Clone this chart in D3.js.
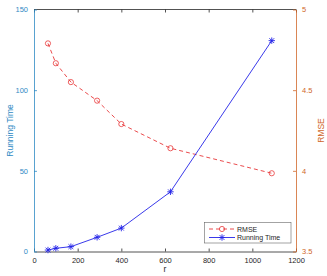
<!DOCTYPE html>
<html><head><meta charset="utf-8">
<script src="https://cdn.jsdelivr.net/npm/d3@7"></script>
<style>body{margin:0;background:#fff}svg{display:block}text{font-family:Helvetica,"Liberation Sans",Arial,sans-serif}</style>
</head><body>
<svg id="c" width="327" height="276"></svg>
<script>
const rValues = [64, 100, 169, 289, 400, 625, 1089];
const rmse = [4.79, 4.667, 4.55, 4.435, 4.29, 4.14, 3.985];
const runningTime = [0.9, 2.0, 3.0, 8.8, 14.5, 37, 130.7];
const xTicks = [0, 200, 400, 600, 800, 1000, 1200];
const leftTicks = [0, 50, 100, 150];
const rightTicks = [3.5, 4, 4.5, 5];

const svg = d3.select("#c");
const L = 34, R = 296, T = 9.5, B = 251.5;
const blueAx = "#2f8ac4", orangeAx = "#d0672a";
const x = d3.scaleLinear().domain([0, 1200]).range([L, R]);
const yL = d3.scaleLinear().domain([0, 150]).range([B, T]);
const yR = d3.scaleLinear().domain([3.5, 5]).range([B, T]);
const fs = "7.5px";

// top frame
svg.append("line").attr("x1", L).attr("x2", R).attr("y1", T).attr("y2", T).attr("stroke", "#262626").attr("stroke-width", 0.8);

const gx = svg.append("g").attr("transform", `translate(0,${B})`)
  .call(d3.axisBottom(x).tickValues(xTicks).tickSize(-3).tickPadding(6).tickSizeOuter(0).tickFormat(d3.format("d")));
gx.select(".domain").attr("stroke", "#262626").attr("stroke-width", 0.8);
gx.selectAll(".tick line").attr("stroke", "#262626").attr("stroke-width", 0.8);
gx.selectAll("text").attr("fill", "#262626").style("font-size", fs);
const gxt = svg.append("g").attr("transform", `translate(0,${T})`)
  .call(d3.axisTop(x).tickValues(xTicks).tickSize(-3).tickFormat("").tickSizeOuter(0));
gxt.select(".domain").remove();
gxt.selectAll(".tick line").attr("stroke", "#262626").attr("stroke-width", 0.8);

const gl = svg.append("g").attr("transform", `translate(${L},0)`)
  .call(d3.axisLeft(yL).tickValues(leftTicks).tickSize(-3).tickPadding(6).tickSizeOuter(0));
gl.select(".domain").attr("stroke", blueAx).attr("stroke-width", 0.8);
gl.selectAll(".tick line").attr("stroke", blueAx).attr("stroke-width", 0.8);
gl.selectAll("text").attr("fill", blueAx).style("font-size", fs);

const gr = svg.append("g").attr("transform", `translate(${R},0)`)
  .call(d3.axisRight(yR).tickValues(rightTicks).tickSize(-3).tickPadding(6).tickSizeOuter(0).tickFormat(d3.format("")));
gr.select(".domain").attr("stroke", orangeAx).attr("stroke-width", 0.8);
gr.selectAll(".tick line").attr("stroke", orangeAx).attr("stroke-width", 0.8);
gr.selectAll("text").attr("fill", orangeAx).style("font-size", fs);

svg.append("text").attr("x", (L + R) / 2).attr("y", 272).attr("text-anchor", "middle")
  .attr("fill", "#262626").style("font-size", "8.5px").text("r");
svg.append("text").attr("transform", `translate(12.5,${(T + B) / 2}) rotate(-90)`).attr("text-anchor", "middle")
  .attr("fill", blueAx).style("font-size", "8.5px").text("Running Time");
svg.append("text").attr("transform", `translate(324,${(T + B) / 2}) rotate(-90)`).attr("text-anchor", "middle")
  .attr("fill", orangeAx).style("font-size", "8.5px").text("RMSE");

const red = "#e8383a", blue = "#2424e8";
const dataR = rValues.map((r, i) => ({ r, v: rmse[i] }));
const dataT = rValues.map((r, i) => ({ r, v: runningTime[i] }));

svg.append("path").datum(dataR).attr("fill", "none").attr("stroke", red).attr("stroke-width", 0.9)
  .attr("stroke-dasharray", "4,3").attr("d", d3.line().x(d => x(d.r)).y(d => yR(d.v)));
svg.selectAll(".cr").data(dataR).join("circle").attr("cx", d => x(d.r)).attr("cy", d => yR(d.v))
  .attr("r", 2.6).attr("fill", "none").attr("stroke", red).attr("stroke-width", 0.8);

svg.append("path").datum(dataT).attr("fill", "none").attr("stroke", blue).attr("stroke-width", 0.9)
  .attr("d", d3.line().x(d => x(d.r)).y(d => yL(d.v)));
function star(g, cx, cy, s) {
  const p = [];
  p.push(`M${cx - s},${cy}L${cx + s},${cy}`);
  p.push(`M${cx},${cy - s}L${cx},${cy + s}`);
  const d = s * 0.75;
  p.push(`M${cx - d},${cy - d}L${cx + d},${cy + d}`);
  p.push(`M${cx - d},${cy + d}L${cx + d},${cy - d}`);
  g.append("path").attr("d", p.join("")).attr("stroke", blue).attr("stroke-width", 0.9).attr("fill", "none");
}
const gs = svg.append("g");
dataT.forEach(d => star(gs, x(d.r), yL(d.v), 3.2));

// legend
const lg = svg.append("g");
lg.append("rect").attr("x", 204.5).attr("y", 222.5).attr("width", 86.5).attr("height", 20.5)
  .attr("fill", "#fff").attr("stroke", "#666").attr("stroke-width", 0.6);
lg.append("line").attr("x1", 209).attr("x2", 235).attr("y1", 229).attr("y2", 229)
  .attr("stroke", red).attr("stroke-width", 0.9).attr("stroke-dasharray", "4,3");
lg.append("circle").attr("cx", 222).attr("cy", 229).attr("r", 2.6).attr("fill", "none").attr("stroke", red).attr("stroke-width", 0.8);
lg.append("line").attr("x1", 209).attr("x2", 235).attr("y1", 237.5).attr("y2", 237.5)
  .attr("stroke", blue).attr("stroke-width", 0.9);
star(lg, 222, 237.5, 3.2);
lg.append("text").attr("x", 237).attr("y", 231.5).attr("fill", "#262626").style("font-size", "7px").text("RMSE");
lg.append("text").attr("x", 237).attr("y", 240).attr("fill", "#262626").style("font-size", "7px").text("Running Time");
</script>
</body></html>
